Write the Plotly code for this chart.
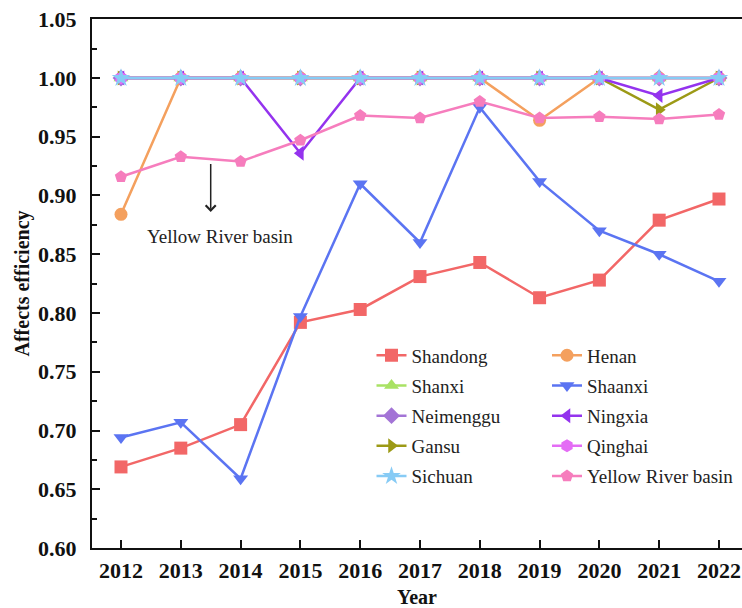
import plotly.graph_objects as go

years = [2012, 2013, 2014, 2015, 2016, 2017, 2018, 2019, 2020, 2021, 2022]

shandong = [0.669, 0.685, 0.705, 0.792, 0.803, 0.831, 0.843, 0.813, 0.828, 0.879, 0.897]
henan = [0.884, 1.0, 1.0, 1.0, 1.0, 1.0, 1.0, 0.964, 1.0, 1.0, 1.0]
shanxi = [1.0] * 11
shaanxi = [0.694, 0.707, 0.659, 0.797, 0.910, 0.860, 0.975, 0.912, 0.870, 0.850, 0.827]
neimenggu = [1.0] * 11
ningxia = [1.0, 1.0, 1.0, 0.936, 1.0, 1.0, 1.0, 1.0, 1.0, 0.985, 1.0]
gansu = [1.0, 1.0, 1.0, 1.0, 1.0, 1.0, 1.0, 1.0, 1.0, 0.973, 1.0]
qinghai = [1.0] * 11
sichuan = [1.0] * 11
yellow_river = [0.916, 0.933, 0.929, 0.947, 0.968, 0.966, 0.980, 0.966, 0.967, 0.965, 0.969]

y_ticks = [0.60, 0.65, 0.70, 0.75, 0.80, 0.85, 0.90, 0.95, 1.00, 1.05]
y_tick_text = ["0.60", "0.65", "0.70", "0.75", "0.80", "0.85", "0.90", "0.95", "1.00", "1.05"]

# name, values, colour, marker, legend, rank
series = [
    ("Shandong", shandong, "#F26767", "square", "legend", 1),
    ("Shanxi", shanxi, "#A9E264", "triangle-up", "legend", 2),
    ("Neimenggu", neimenggu, "#A374D6", "diamond", "legend", 3),
    ("Gansu", gansu, "#9C9A16", "triangle-right", "legend", 4),
    ("Henan", henan, "#F4A05E", "circle", "legend2", 1),
    ("Shaanxi", shaanxi, "#5B74F2", "triangle-down", "legend2", 2),
    ("Ningxia", ningxia, "#9433EE", "triangle-left", "legend2", 3),
    ("Qinghai", qinghai, "#E46CF5", "hexagon", "legend2", 4),
    ("Yellow River basin", yellow_river, "#F67DBD", "pentagon", "legend2", 5),
    ("Sichuan", sichuan, "#87CBF5", "star", "legend", 5),
]

fig = go.Figure()
for name, vals, color, sym, leg, rank in series:
    fig.add_trace(go.Scatter(
        x=years, y=vals, name=name, mode="lines+markers",
        line=dict(color=color, width=2.5),
        marker=dict(symbol=sym, size=13 if sym != "star" else 14, color=color),
        legend=leg, legendrank=rank, legendgroup=name,
    ))

font_family = "Liberation Serif, Times New Roman, serif"

fig.add_annotation(
    x=2013.5, y=0.886, ax=2013.5, ay=0.928, xref="x", yref="y", axref="x", ayref="y",
    showarrow=True, arrowhead=4, arrowsize=1.3, arrowwidth=1.5, arrowcolor="#222222", text="",
)
fig.add_annotation(
    x=2013.66, y=0.865, xref="x", yref="y", showarrow=False,
    text="Yellow River basin", font=dict(family=font_family, size=19, color="#222222"),
)

legend_common = dict(
    orientation="v", yanchor="top", xanchor="left",
    font=dict(family=font_family, size=19, color="#222222"),
    bgcolor="rgba(0,0,0,0)", traceorder="grouped", tracegroupgap=2.5,
)

fig.update_layout(
    width=742, height=608,
    margin=dict(l=92, r=0, t=19, b=60),
    plot_bgcolor="white", paper_bgcolor="white",
    font=dict(family=font_family, color="#111111"),
    showlegend=True,
    legend=dict(x=0.43, y=0.400, **legend_common),
    legend2=dict(x=0.70, y=0.400, **legend_common),
    xaxis=dict(
        range=[2011.515, 2022.385], tickmode="array", tickvals=years,
        ticks="inside", ticklen=8, tickwidth=1.5, tickcolor="#111111",
        showline=True, linecolor="#111111", linewidth=2, mirror=True,
        showgrid=False, zeroline=False, automargin=False,
        ticklabelstandoff=2,
        tickfont=dict(family=font_family, size=22, color="#111111", weight="bold"),
        title=dict(text="<b>Year</b>", font=dict(family=font_family, size=20), standoff=8),
    ),
    yaxis=dict(
        range=[0.60, 1.0502], tickmode="array",
        tickvals=y_ticks, ticktext=y_tick_text,
        ticks="inside", ticklen=8, tickwidth=1.5, tickcolor="#111111",
        minor=dict(dtick=0.025, ticks="inside", ticklen=5, tickwidth=1.5, tickcolor="#111111", showgrid=False),
        showline=True, linecolor="#111111", linewidth=2, mirror=False,
        showgrid=False, zeroline=False, automargin=False,
        ticklabelstandoff=9,
        tickfont=dict(family=font_family, size=22, color="#111111", weight="bold"),
        title=dict(text="<b>Affects efficiency</b>", font=dict(family=font_family, size=20), standoff=3),
    ),
)

fig.write_html(
    "out.html",
    config={"displayModeBar": False},
    post_script="document.body.style.margin='0';document.body.style.overflow='hidden';",
)
